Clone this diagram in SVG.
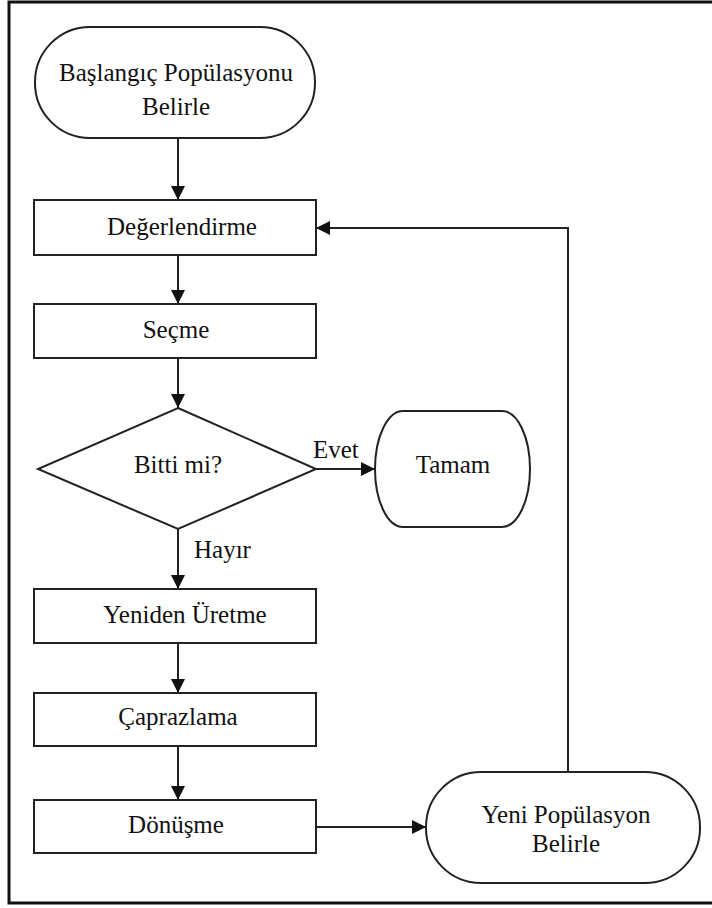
<svg xmlns="http://www.w3.org/2000/svg" width="712" height="908" viewBox="0 0 712 908">
<defs>
<style>
.frame{fill:none;stroke:#111;stroke-width:3}
.shape{fill:#fff;stroke:#222;stroke-width:2}
.edge{fill:none;stroke:#222;stroke-width:2}
.t{font-family:'Liberation Serif','Times New Roman',Times,serif;font-size:25px;fill:#111}
.c{text-anchor:middle}
</style>
<marker id="arr" markerUnits="userSpaceOnUse" markerWidth="14" markerHeight="14" viewBox="0 0 14 14" refX="14" refY="7" orient="auto">
<path d="M0,0 L14,7 L0,14 Z" fill="#111"/>
</marker>
</defs>
<rect width="712" height="908" fill="#fff"/>
<rect class="frame" x="9" y="2" width="720" height="901"/>

<g id="connectors">
<line class="edge" x1="178" y1="138" x2="178" y2="200" marker-end="url(#arr)"/>
<line class="edge" x1="178" y1="255" x2="178" y2="304" marker-end="url(#arr)"/>
<line class="edge" x1="178" y1="358" x2="178" y2="408" marker-end="url(#arr)"/>
<line class="edge" x1="316" y1="469" x2="375" y2="469" marker-end="url(#arr)"/>
<line class="edge" x1="178" y1="529" x2="178" y2="589" marker-end="url(#arr)"/>
<line class="edge" x1="178" y1="643" x2="178" y2="693" marker-end="url(#arr)"/>
<line class="edge" x1="178" y1="746" x2="178" y2="800" marker-end="url(#arr)"/>
<line class="edge" x1="316" y1="827" x2="426" y2="827" marker-end="url(#arr)"/>
<polyline class="edge" points="568,772 568,228 316,228" marker-end="url(#arr)"/>
<text class="t" font-family="Liberation Serif, serif" x="313" y="458">Evet</text>
<text class="t" font-family="Liberation Serif, serif" x="194" y="558">Hayır</text>
</g>

<g id="start">
<rect class="shape" x="35" y="27" width="280" height="111" rx="55" ry="55"/>
<text class="t c" font-family="Liberation Serif, serif" x="176" y="81">Başlangıç Popülasyonu</text>
<text class="t c" font-family="Liberation Serif, serif" x="176" y="115">Belirle</text>
</g>
<g id="degerlendirme">
<rect class="shape" x="34" y="200" width="282" height="55"/>
<text class="t c" font-family="Liberation Serif, serif" x="182" y="235">Değerlendirme</text>
</g>
<g id="secme">
<rect class="shape" x="34" y="304" width="282" height="54"/>
<text class="t c" font-family="Liberation Serif, serif" x="176" y="338">Seçme</text>
</g>
<g id="bitti">
<polygon class="shape" points="178,408 316,469 178,529 38,469"/>
<text class="t c" font-family="Liberation Serif, serif" x="178" y="473">Bitti mi?</text>
</g>
<g id="tamam">
<rect class="shape" x="375" y="411" width="155" height="116" rx="28" ry="58"/>
<text class="t c" font-family="Liberation Serif, serif" x="453" y="473">Tamam</text>
</g>
<g id="yeniden">
<rect class="shape" x="34" y="589" width="282" height="54"/>
<text class="t c" font-family="Liberation Serif, serif" x="185" y="623">Yeniden Üretme</text>
</g>
<g id="caprazlama">
<rect class="shape" x="34" y="693" width="282" height="53"/>
<text class="t c" font-family="Liberation Serif, serif" x="178" y="725">Çaprazlama</text>
</g>
<g id="donusme">
<rect class="shape" x="34" y="800" width="282" height="53"/>
<text class="t c" font-family="Liberation Serif, serif" x="176" y="833">Dönüşme</text>
</g>
<g id="yeni">
<rect class="shape" x="426" y="772" width="274" height="111" rx="55" ry="55"/>
<text class="t c" font-family="Liberation Serif, serif" x="566" y="823">Yeni Popülasyon</text>
<text class="t c" font-family="Liberation Serif, serif" x="566" y="852">Belirle</text>
</g>
</svg>
